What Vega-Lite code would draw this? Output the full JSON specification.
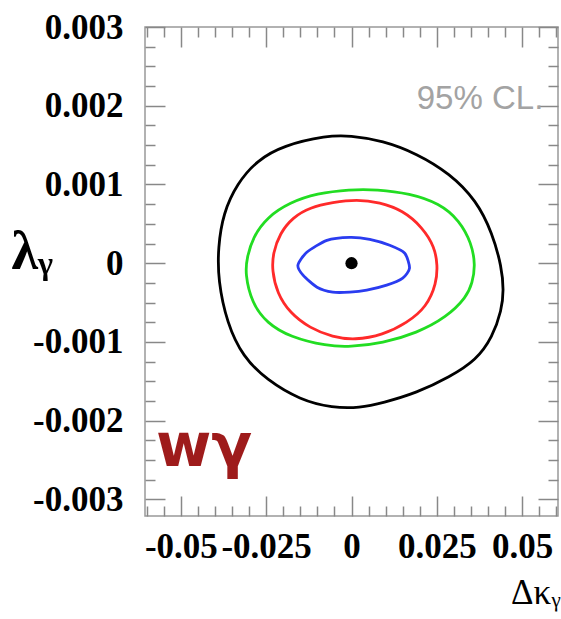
{
  "$schema": "https://vega.github.io/schema/vega-lite/v6.json",
  "width": 413,
  "height": 489,
  "autosize": "none",
  "padding": {"left": 145, "top": 27, "right": 3, "bottom": 103},
  "background": "white",
  "config": {
    "view": {"stroke": "#999999", "strokeWidth": 1.5},
    "axis": {"grid": false, "domain": false, "tickColor": "#888888", "tickWidth": 1.5, "labelFlush": false, "labelOverlap": false}
  },
  "datasets": {
    "contours": [
      {"c": "black", "i": 1, "x": -0.0005, "y": 0.001622},
      {"c": "black", "i": 2, "x": 0.00915, "y": 0.001558},
      {"c": "black", "i": 3, "x": 0.0191, "y": 0.001394},
      {"c": "black", "i": 4, "x": 0.0288, "y": 0.00114},
      {"c": "black", "i": 5, "x": 0.0366, "y": 0.000798},
      {"c": "black", "i": 6, "x": 0.0413, "y": 0.00038},
      {"c": "black", "i": 7, "x": 0.044, "y": -0.00005},
      {"c": "black", "i": 8, "x": 0.0446, "y": -0.000342},
      {"c": "black", "i": 9, "x": 0.044, "y": -0.000595},
      {"c": "black", "i": 10, "x": 0.0413, "y": -0.000938},
      {"c": "black", "i": 11, "x": 0.0366, "y": -0.001229},
      {"c": "black", "i": 12, "x": 0.0288, "y": -0.001444},
      {"c": "black", "i": 13, "x": 0.0191, "y": -0.001647},
      {"c": "black", "i": 14, "x": 0.00915, "y": -0.001774},
      {"c": "black", "i": 15, "x": 0.0024, "y": -0.001837},
      {"c": "black", "i": 16, "x": -0.0055, "y": -0.001837},
      {"c": "black", "i": 17, "x": -0.0151, "y": -0.001736},
      {"c": "black", "i": 18, "x": -0.0248, "y": -0.001482},
      {"c": "black", "i": 19, "x": -0.0318, "y": -0.001191},
      {"c": "black", "i": 20, "x": -0.0365, "y": -0.00076},
      {"c": "black", "i": 21, "x": -0.0391, "y": -0.000215},
      {"c": "black", "i": 22, "x": -0.0391, "y": 0.000203},
      {"c": "black", "i": 23, "x": -0.0376, "y": 0.000634},
      {"c": "black", "i": 24, "x": -0.0335, "y": 0.001014},
      {"c": "black", "i": 25, "x": -0.0277, "y": 0.001305},
      {"c": "black", "i": 26, "x": -0.0201, "y": 0.001495},
      {"c": "black", "i": 27, "x": -0.0072, "y": 0.001622},
      {"c": "green", "i": 1, "x": -0.0005, "y": 0.000938},
      {"c": "green", "i": 2, "x": 0.0074, "y": 0.000938},
      {"c": "green", "i": 3, "x": 0.01705, "y": 0.000887},
      {"c": "green", "i": 4, "x": 0.0258, "y": 0.00076},
      {"c": "green", "i": 5, "x": 0.0316, "y": 0.000545},
      {"c": "green", "i": 6, "x": 0.0352, "y": 0.000253},
      {"c": "green", "i": 7, "x": 0.0363, "y": -0.000025},
      {"c": "green", "i": 8, "x": 0.0354, "y": -0.000253},
      {"c": "green", "i": 9, "x": 0.0337, "y": -0.000431},
      {"c": "green", "i": 10, "x": 0.0279, "y": -0.000684},
      {"c": "green", "i": 11, "x": 0.0191, "y": -0.000887},
      {"c": "green", "i": 12, "x": 0.00915, "y": -0.001014},
      {"c": "green", "i": 13, "x": -0.0005, "y": -0.001064},
      {"c": "green", "i": 14, "x": -0.0072, "y": -0.001052},
      {"c": "green", "i": 15, "x": -0.018, "y": -0.000938},
      {"c": "green", "i": 16, "x": -0.0248, "y": -0.00076},
      {"c": "green", "i": 17, "x": -0.0292, "y": -0.000507},
      {"c": "green", "i": 18, "x": -0.0312, "y": -0.000127},
      {"c": "green", "i": 19, "x": -0.0306, "y": 0.000076},
      {"c": "green", "i": 20, "x": -0.0289, "y": 0.000329},
      {"c": "green", "i": 21, "x": -0.0248, "y": 0.000583},
      {"c": "green", "i": 22, "x": -0.018, "y": 0.000773},
      {"c": "green", "i": 23, "x": -0.0102, "y": 0.000887},
      {"c": "red", "i": 1, "x": 0.00155, "y": 0.000811},
      {"c": "red", "i": 2, "x": 0.00828, "y": 0.000773},
      {"c": "red", "i": 3, "x": 0.015, "y": 0.000672},
      {"c": "red", "i": 4, "x": 0.0208, "y": 0.000456},
      {"c": "red", "i": 5, "x": 0.0244, "y": 0.000203},
      {"c": "red", "i": 6, "x": 0.0252, "y": -0.000025},
      {"c": "red", "i": 7, "x": 0.0249, "y": -0.000253},
      {"c": "red", "i": 8, "x": 0.022, "y": -0.000557},
      {"c": "red", "i": 9, "x": 0.0162, "y": -0.00076},
      {"c": "red", "i": 10, "x": 0.00915, "y": -0.000912},
      {"c": "red", "i": 11, "x": 0.00096, "y": -0.000976},
      {"c": "red", "i": 12, "x": -0.0055, "y": -0.000938},
      {"c": "red", "i": 13, "x": -0.0122, "y": -0.000824},
      {"c": "red", "i": 14, "x": -0.018, "y": -0.000634},
      {"c": "red", "i": 15, "x": -0.0218, "y": -0.00038},
      {"c": "red", "i": 16, "x": -0.0233, "y": -0.000089},
      {"c": "red", "i": 17, "x": -0.023, "y": 0.000127},
      {"c": "red", "i": 18, "x": -0.021, "y": 0.00038},
      {"c": "red", "i": 19, "x": -0.0172, "y": 0.000583},
      {"c": "red", "i": 20, "x": -0.0122, "y": 0.000709},
      {"c": "red", "i": 21, "x": -0.0055, "y": 0.000773}
    ],
    "blue": [
      {"i": 1, "x": -0.0157, "y": -0.000025},
      {"i": 2, "x": -0.0131, "y": 0.000139},
      {"i": 3, "x": -0.0072, "y": 0.000291},
      {"i": 4, "x": -0.0005, "y": 0.000329},
      {"i": 5, "x": 0.00535, "y": 0.000304},
      {"i": 6, "x": 0.0112, "y": 0.000228},
      {"i": 7, "x": 0.0156, "y": 0.000127},
      {"i": 8, "x": 0.017, "y": -0.000063},
      {"i": 9, "x": 0.015, "y": -0.00019},
      {"i": 10, "x": 0.0103, "y": -0.000279},
      {"i": 11, "x": 0.00447, "y": -0.000342},
      {"i": 12, "x": -0.0005, "y": -0.000367},
      {"i": 13, "x": -0.0055, "y": -0.000367},
      {"i": 14, "x": -0.0101, "y": -0.000304},
      {"i": 15, "x": -0.0142, "y": -0.000152}
    ],
    "center": [{"x": 0, "y": 0}],
    "notes": [
      {"label": "95% CL."},
      {"label": "wγ"}
    ]
  },
  "layer": [
    {
      "data": {"name": "contours"},
      "mark": {"type": "line", "interpolate": "basis-closed", "strokeWidth": 2.8},
      "encoding": {
        "x": {
          "field": "x", "type": "quantitative",
          "scale": {"domain": [-0.0605, 0.0605], "nice": false, "zero": false},
          "axis": {
            "orient": "bottom",
            "values": [-0.06, -0.055, -0.05, -0.045, -0.04, -0.035, -0.03, -0.025, -0.02, -0.015, -0.01, -0.005, 0, 0.005, 0.01, 0.015, 0.02, 0.025, 0.03, 0.035, 0.04, 0.045, 0.05, 0.055, 0.06],
            "labelExpr": "abs(datum.value*40 - round(datum.value*40)) < 1e-6 ? toString(datum.value) : ''",
            "tickSize": {"condition": {"test": "abs(datum.value*40 - round(datum.value*40)) < 1e-6", "value": -20}, "value": -10},
            "labelFont": "Liberation Serif", "labelFontWeight": "bold", "labelFontSize": 35, "labelColor": "black",
            "labelPadding": 33,
            "title": "Δκᵧ", "titleFont": "Liberation Serif", "titleFontWeight": "normal", "titleFontSize": 35, "titleColor": "black",
            "titleAnchor": "end", "titleAlign": "right", "titleBaseline": "alphabetic", "titleX": 415, "titleY": 87
          }
        },
        "y": {
          "field": "y", "type": "quantitative",
          "scale": {"domain": [-0.00321, 0.003], "nice": false, "zero": false},
          "axis": {
            "orient": "left",
            "values": [-0.003, -0.00275, -0.0025, -0.00225, -0.002, -0.00175, -0.0015, -0.00125, -0.001, -0.00075, -0.0005, -0.00025, 0, 0.00025, 0.0005, 0.00075, 0.001, 0.00125, 0.0015, 0.00175, 0.002, 0.00225, 0.0025, 0.00275, 0.003],
            "labelExpr": "abs(datum.value*1000 - round(datum.value*1000)) < 1e-6 ? toString(datum.value) : ''",
            "tickSize": {"condition": {"test": "abs(datum.value*1000 - round(datum.value*1000)) < 1e-6", "value": -20}, "value": -10},
            "labelFont": "Liberation Serif", "labelFontWeight": "bold", "labelFontSize": 35, "labelColor": "black",
            "labelPadding": 42,
            "title": "λᵧ", "titleFont": "Liberation Serif", "titleFontWeight": "bold", "titleFontSize": 54, "titleColor": "black",
            "titleAngle": 0, "titleAlign": "left", "titleBaseline": "alphabetic", "titleX": -134, "titleY": 241
          }
        },
        "color": {"field": "c", "type": "nominal", "scale": {"domain": ["black", "green", "red"], "range": ["#000000", "#22dd22", "#ff2a2a"]}, "legend": null},
        "order": {"field": "i", "type": "quantitative"}
      }
    },
    {
      "data": {"name": "blue"},
      "mark": {"type": "line", "interpolate": "cardinal-closed", "tension": 0.3, "strokeWidth": 2.8, "color": "#2a3cf0"},
      "encoding": {
        "x": {"field": "x", "type": "quantitative", "scale": {"domain": [-0.0605, 0.0605], "nice": false, "zero": false}, "axis": null},
        "y": {"field": "y", "type": "quantitative", "scale": {"domain": [-0.00321, 0.003], "nice": false, "zero": false}, "axis": null},
        "order": {"field": "i", "type": "quantitative"}
      }
    },
    {
      "data": {"name": "center"},
      "mark": {"type": "point", "filled": true, "color": "black", "size": 150, "opacity": 1},
      "encoding": {
        "x": {
          "field": "x", "type": "quantitative", "scale": {"domain": [-0.0605, 0.0605], "nice": false, "zero": false},
          "axis": {
            "orient": "top", "title": null, "labels": false,
            "values": [-0.06, -0.055, -0.05, -0.045, -0.04, -0.035, -0.03, -0.025, -0.02, -0.015, -0.01, -0.005, 0, 0.005, 0.01, 0.015, 0.02, 0.025, 0.03, 0.035, 0.04, 0.045, 0.05, 0.055, 0.06],
            "tickSize": {"condition": {"test": "abs(datum.value*40 - round(datum.value*40)) < 1e-6", "value": -20}, "value": -10}
          }
        },
        "y": {
          "field": "y", "type": "quantitative", "scale": {"domain": [-0.00321, 0.003], "nice": false, "zero": false},
          "axis": {
            "orient": "right", "title": null, "labels": false,
            "values": [-0.003, -0.00275, -0.0025, -0.00225, -0.002, -0.00175, -0.0015, -0.00125, -0.001, -0.00075, -0.0005, -0.00025, 0, 0.00025, 0.0005, 0.00075, 0.001, 0.00125, 0.0015, 0.00175, 0.002, 0.00225, 0.0025, 0.00275, 0.003],
            "tickSize": {"condition": {"test": "abs(datum.value*1000 - round(datum.value*1000)) < 1e-6", "value": -20}, "value": -10}
          }
        }
      }
    },
    {
      "data": {"name": "notes"},
      "transform": [{"filter": "datum.label == '95% CL.'"}],
      "mark": {"type": "text", "font": "Liberation Sans", "fontSize": 33, "fontWeight": "normal", "color": "#a3a3a3", "align": "right", "baseline": "alphabetic"},
      "encoding": {
        "text": {"field": "label"},
        "x": {"datum": 0.0562, "type": "quantitative", "scale": {"domain": [-0.0605, 0.0605], "nice": false, "zero": false}, "axis": null},
        "y": {"datum": 0.00196, "type": "quantitative", "scale": {"domain": [-0.00321, 0.003], "nice": false, "zero": false}, "axis": null}
      }
    },
    {
      "data": {"name": "notes"},
      "transform": [{"filter": "datum.label == 'wγ'"}],
      "mark": {"type": "text", "font": "DejaVu Sans", "fontWeight": "bold", "fontSize": 60, "color": "#9e1b1b", "align": "left", "baseline": "alphabetic"},
      "encoding": {
        "text": {"field": "label"},
        "x": {"datum": -0.0573, "type": "quantitative", "scale": {"domain": [-0.0605, 0.0605], "nice": false, "zero": false}, "axis": null},
        "y": {"datum": -0.00257, "type": "quantitative", "scale": {"domain": [-0.00321, 0.003], "nice": false, "zero": false}, "axis": null}
      }
    }
  ],
  "resolve": {"axis": {"x": "independent", "y": "independent"}}
}
